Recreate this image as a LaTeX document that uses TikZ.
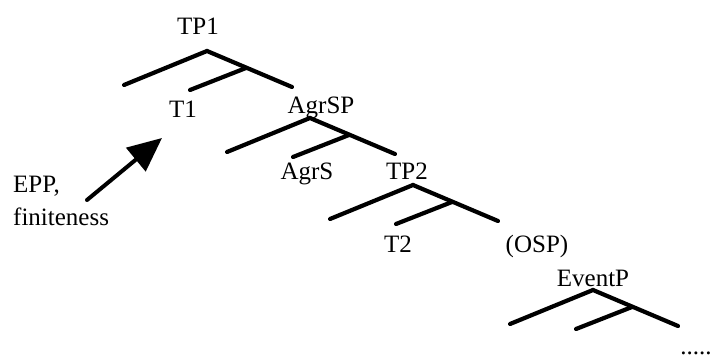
\documentclass[tikz,border=0pt]{standalone}
\usepackage{fontspec}
\setmainfont{Liberation Serif}
\usetikzlibrary{arrows.meta}

\tikzset{
  branch/.style={line width=4.2pt, line cap=round},
  cat/.style={font=\fontsize{25}{33}\selectfont, anchor=base, inner sep=0pt},
}

\begin{document}
\begin{tikzpicture}[x=1pt, y=-1pt]
  \useasboundingbox (0,0) rectangle (715,358);

  % category labels
  \node[cat] (tp1) at (198,35) {TP1};
  \node[cat] (t1) at (183,118) {T1};
  \node[cat] (agrsp) at (321,114) {AgrSP};
  \node[cat] (agrs) at (307,180) {AgrS};
  \node[cat] (tp2) at (407,180) {TP2};
  \node[cat] (t2) at (398,252) {T2};
  \node[cat] (osp) at (537,252) {(OSP)};
  \node[cat] (eventp) at (593,286) {EventP};
  \node[cat] (more) at (696,354) {.....};

  % branching points
  \coordinate (tp1-top) at (207,51);
  \coordinate (agrsp-top) at (310,118);
  \coordinate (tp2-top) at (413,185);
  \coordinate (eventp-top) at (593,290);

  % forks
  \foreach \apex in {tp1-top, agrsp-top, tp2-top, eventp-top} {
    \draw[branch] ([shift={(-83,34)}]\apex) -- (\apex) -- ([shift={(85,36)}]\apex);
    \draw[branch] ([shift={(-17,39)}]\apex) -- ([shift={(39,17)}]\apex);
  }

  % EPP arrow
  \node[cat, anchor=base west, align=left] (epp) at (13,226) {EPP,\\finiteness};
  \coordinate (epp-tail) at (87,200);
  \coordinate (epp-tip) at (162,138);
  \draw[line width=4pt, line cap=round, -{Triangle[length=34pt,width=30pt]}] (epp-tail) -- (epp-tip);
\end{tikzpicture}
\end{document}
